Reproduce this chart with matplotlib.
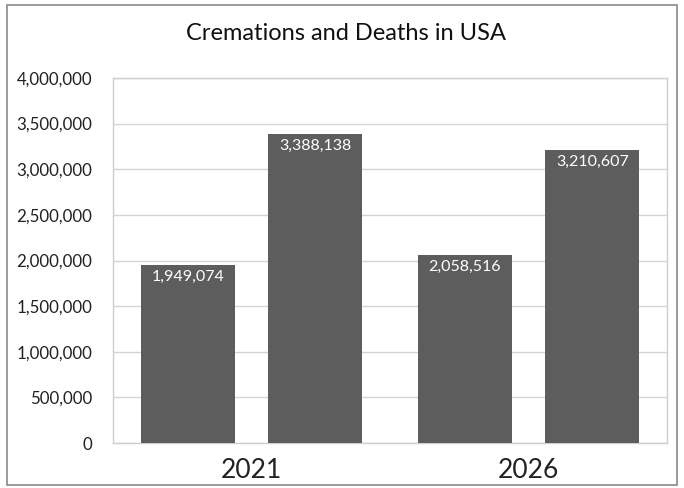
import matplotlib
matplotlib.use("Agg")
import matplotlib.pyplot as plt
from matplotlib.patches import Rectangle
from matplotlib.ticker import FuncFormatter, MultipleLocator

categories = ["2021", "2026"]
cremations = [1949074, 2058516]
deaths = [3388138, 3210607]

plt.rcParams['font.family'] = ['Lato', 'DejaVu Sans']

fig = plt.figure(figsize=(6.84, 4.88), dpi=100)
fig.patch.set_facecolor("white")
ax = fig.add_axes([113/684, 1-443/488, (667-113)/684, (443-78)/488])

x = list(range(len(categories)))
w = 0.34
off = 0.23
bar_color = "#5d5d5d"
b1 = ax.bar([i - off for i in x], cremations, width=w, color=bar_color, zorder=3)
b2 = ax.bar([i + off for i in x], deaths, width=w, color=bar_color, zorder=3)

for bars in (b1, b2):
    for r in bars:
        v = r.get_height()
        ax.text(r.get_x() + r.get_width()/2, v - 55000, f"{int(v):,}",
                ha="center", va="top", color="white", fontsize=11.5, zorder=4)

ax.set_xlim(-0.5, 1.5)
ax.set_ylim(0, 4000000)
ax.yaxis.set_major_locator(MultipleLocator(500000))
ax.yaxis.set_major_formatter(FuncFormatter(lambda v, p: f"{int(v):,}"))
ax.set_xticks(x)
ax.set_xticklabels(categories, fontsize=19)
ax.tick_params(axis="both", length=0)
ax.tick_params(axis="y", labelsize=12.2, pad=15, colors="#222222")
ax.tick_params(axis="x", pad=11, colors="#222222")
ax.grid(axis="y", color="#d4d4d4", linewidth=1, zorder=0)
for s in ax.spines.values():
    s.set_color("#cfcfcf")
    s.set_linewidth(1)

fig.text(346/684, 1-33/488, "Cremations and Deaths in USA", ha="center", va="center",
         fontsize=17, color="#111111")

fig.patches.append(Rectangle((7/684, 1-485/488), (677-7)/684, (485-5)/488,
                             transform=fig.transFigure, fill=False,
                             edgecolor="#8a8a8a", linewidth=1.2))

fig.savefig("out.png", dpi=100, facecolor="white")
